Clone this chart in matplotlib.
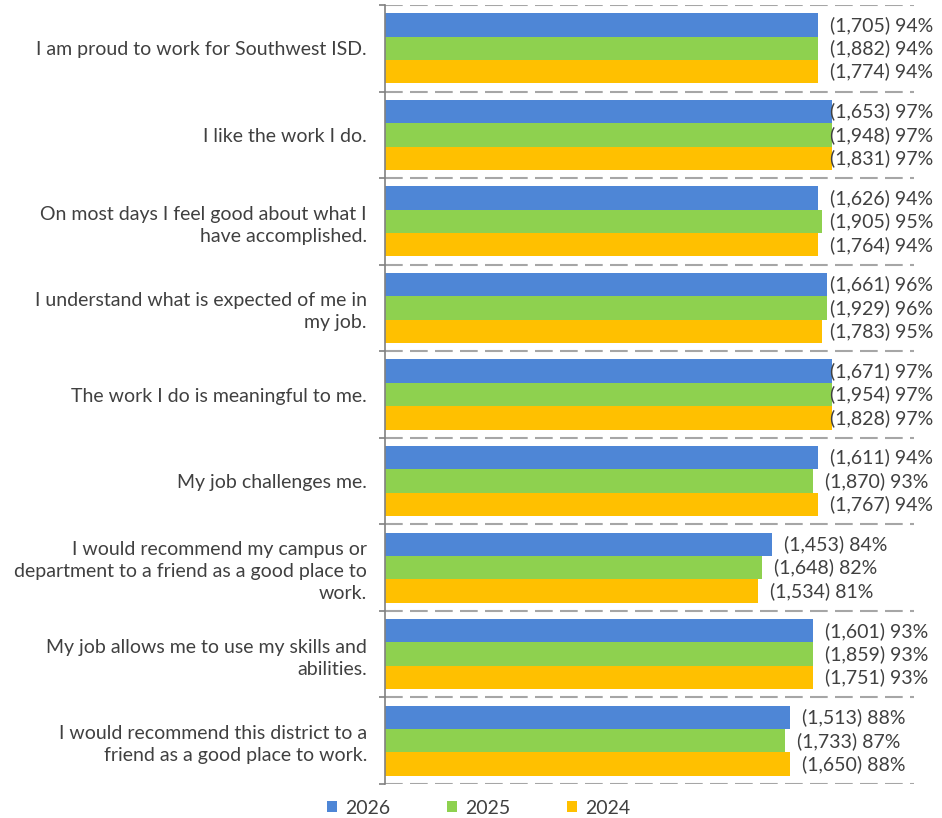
import matplotlib
matplotlib.use("Agg")
from matplotlib import pyplot as plt
from matplotlib.patches import Patch
import numpy as np

plt.rcParams['font.family'] = ['Lato', 'DejaVu Sans']

categories = [
    "I am proud to work for Southwest ISD.",
    "I like the work I do.",
    "On most days I feel good about what I\nhave accomplished.",
    "I understand what is expected of me in\nmy job.",
    "The work I do is meaningful to me.",
    "My job challenges me.",
    "I would recommend my campus or\ndepartment to a friend as a good place to\nwork.",
    "My job allows me to use my skills and\nabilities.",
    "I would recommend this district to a\nfriend as a good place to work.",
]
years = ["2026", "2025", "2024"]
counts_2026 = [1705, 1653, 1626, 1661, 1671, 1611, 1453, 1601, 1513]
pct_2026 = [94, 97, 94, 96, 97, 94, 84, 93, 88]
counts_2025 = [1882, 1948, 1905, 1929, 1954, 1870, 1648, 1859, 1733]
pct_2025 = [94, 97, 95, 96, 97, 93, 82, 93, 87]
counts_2024 = [1774, 1831, 1764, 1783, 1828, 1767, 1534, 1751, 1650]
pct_2024 = [94, 97, 94, 95, 97, 94, 81, 93, 88]

colors = ['#4E86D6', '#8ED14F', '#FFC000']
txt = '#404040'
fs = 14

fig = plt.figure(figsize=(9.42, 8.18), dpi=100)
ax = fig.add_axes([385/942, 1-784/818, 1-385/942, 779/818])

y = np.arange(len(categories))
h = 0.27
series = [(counts_2026, pct_2026), (counts_2025, pct_2025), (counts_2024, pct_2024)]
for k, (cnt, pct) in enumerate(series):
    pos = y + (k-1)*h
    ax.barh(pos, pct, height=h, color=colors[k], label=years[k])
    for yy, c, p in zip(pos, cnt, pct):
        # labels get pushed in when they would run off the right side
        xl = min(p + 2.6, 96.7)
        ax.text(xl, yy, "({:,}) {}%".format(c, p), va='center', ha='left',
                fontsize=fs, color=txt)

# dashed separators between groups
bounds = np.arange(-0.5, len(categories), 1.0)
ax.hlines(bounds, 0, 115, colors='#a6a6a6', linewidth=1.5,
          linestyles=(0, (8.5, 3.5)))

ax.set_xlim(0, 121)
ax.set_ylim(len(categories)-0.5, -0.5)
ax.set_xticks([])
ax.set_yticks(y)
ax.set_yticklabels(categories, fontsize=fs, color=txt, linespacing=1.36)
ax.tick_params(axis='y', which='major', length=0, pad=13)
ax.set_yticks(bounds, minor=True)
ax.tick_params(axis='y', which='minor', length=4.3, width=1.2, color='#808080')
for s in ['top', 'right', 'bottom']:
    ax.spines[s].set_visible(False)
ax.spines['left'].set_color('#808080')
ax.spines['left'].set_linewidth(1.2)

handles = [Patch(facecolor=c, label=l) for c, l in zip(colors, years)]
fig.legend(handles=handles, loc='center', bbox_to_anchor=(0.508, 1-808/818),
           ncol=3, frameon=False, fontsize=fs, labelcolor=txt,
           handlelength=0.5, handleheight=0.5, handletextpad=0.4,
           columnspacing=2.95)

fig.savefig('out.png', dpi=100)
